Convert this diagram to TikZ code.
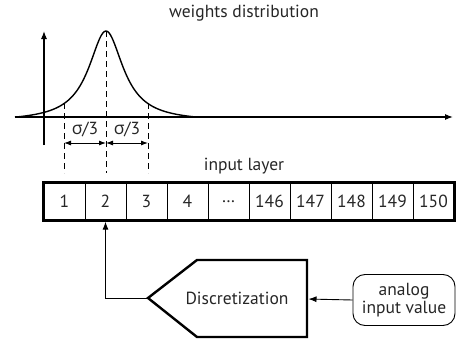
\documentclass[tikz,border=0pt]{standalone}
\usepackage{fontspec}
\setmainfont{PT Sans}
\newfontfamily\greekfont{Open Sans}
\usetikzlibrary{arrows.meta}

\tikzset{
  txt/.style={inner sep=0pt, text=black!85, font=\fontsize{17.5}{19}\selectfont},
  cell/.style={draw, line width=0.9pt, minimum width=41pt, minimum height=37pt, inner sep=0pt, text=black!85, font=\fontsize{17.5}{19}\selectfont},
  guide/.style={line width=0.9pt, dash pattern=on 6pt off 4pt},
  axis/.style={line width=1.1pt, -{Latex[length=8pt,width=6pt]}},
  link/.style={line width=0.9pt, -{Latex[length=8pt,width=6pt]}},
  roundbox/.style={draw, line width=0.9pt, rounded corners=12pt, minimum width=102pt, minimum height=51pt, align=center, inner sep=0pt, text=black!85, font=\fontsize{17.5}{18}\selectfont}
}

\begin{document}
\begin{tikzpicture}[x=1pt,y=-1pt]
\useasboundingbox (0,0) rectangle (459,343);

\node[txt] (title) at (244,13) {weights distribution};

% axes
\coordinate (xs) at (15,117);
\coordinate (xe) at (453,117);
\coordinate (ys) at (44,145);
\coordinate (ye) at (44,31);
\draw[axis] (xs) -- (xe);
\draw[axis] (ys) -- (ye);

% distribution
\draw[line width=1.4pt] plot[domain=-91:89, samples=120]
  ({106+\x}, {117-86*(1/(1+\x*\x/441)-0.052)/0.948});

% sigma guides
\coordinate (g1t) at (64,103);
\coordinate (g1b) at (64,173);
\coordinate (g2t) at (106,31);
\coordinate (g2b) at (106,173);
\coordinate (g3t) at (148,103);
\coordinate (g3b) at (148,173);
\draw[guide] (g1t) -- (g1b);
\draw[guide] (g2t) -- (g2b);
\draw[guide] (g3t) -- (g3b);

\coordinate (a1) at (64,143);
\coordinate (a2) at (106,143);
\coordinate (a3) at (148,143);
\draw[link, {Latex[length=7pt,width=5pt]}-{Latex[length=7pt,width=5pt]}] (a1) -- (a2);
\draw[link, {Latex[length=7pt,width=5pt]}-{Latex[length=7pt,width=5pt]}] (a2) -- (a3);
\node[txt] (s1) at (85,129) {{\greekfont σ}/3};
\node[txt] (s2) at (127,129) {{\greekfont σ}/3};

% input layer
\node[txt] (layer) at (244,166) {input layer};
\foreach \lab [count=\i] in {1,2,3,4,\dots,146,147,148,149,150}
  \node[cell] (c\i) at ({44+41*(\i-0.5)},201.5) {\lab};
\draw[line width=2.4pt] (c1.north west) rectangle (c10.south east);

% discretization block
\coordinate (dtip) at (148,298);
\coordinate (dright) at (307,299);
\draw[line width=2.4pt, line join=miter] (dtip) -- (197,260) -- (307,260) -- (307,337) -- (197,337) -- cycle;
\node[txt] (disc) at (237,298) {Discretization};
\draw[link, shorten >=1.2pt] (dtip) -| (c2.south);

\node[roundbox] (analog) at (404,300) {analog\\input value};
\draw[link, shorten >=1.5pt] (analog.west) -- (dright);
\end{tikzpicture}
\end{document}
